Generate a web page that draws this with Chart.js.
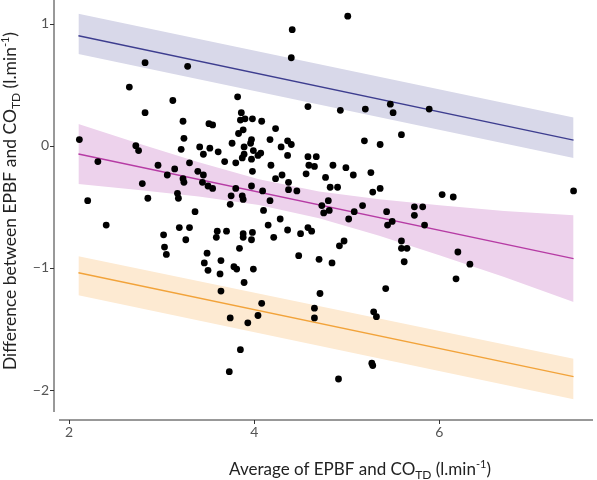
<!DOCTYPE html>
<html>
<head>
<meta charset="utf-8">
<script src="https://cdn.jsdelivr.net/npm/chart.js@4.4.1/dist/chart.umd.min.js"></script>
<style>
  html, body { margin: 0; padding: 0; background: #fff; }
</style>
</head>
<body>
<canvas id="baChart" width="597" height="480"></canvas>
<script>
// scatter: average of the two methods vs their difference
const avgVals = [
  4.41, 4.40, 2.82, 3.28, 5.01, 2.11, 2.31, 2.20, 2.40, 2.65,
  3.12, 3.82, 2.82, 3.23, 3.51, 3.55, 3.86, 3.85, 3.90, 3.83,
  3.88, 3.24, 3.76, 3.89, 3.41, 3.52, 3.45, 3.61, 3.89, 3.87,
  3.68, 3.80, 3.21, 2.72, 2.75, 2.96, 3.30, 3.14, 3.06, 3.39,
  3.45, 3.23, 3.24, 2.79, 3.44, 3.50, 3.55, 3.80, 3.75, 3.87,
  3.88, 3.17, 3.18, 2.85, 4.58, 4.93, 5.20, 3.98, 4.08, 4.23,
  3.97, 3.96, 4.17, 4.36, 4.40, 4.29, 3.99, 4.07, 4.04, 3.97,
  4.36, 4.58, 4.67, 5.19, 4.18, 4.59, 4.65, 4.85, 4.99, 5.07,
  3.98, 4.30, 4.23, 4.56, 4.77, 4.37, 4.37, 4.46, 3.97, 4.09,
  4.82, 4.90, 4.17, 4.80, 5.47, 5.50, 5.89, 5.59, 5.36, 5.26,
  5.36, 5.28, 6.03, 6.15, 5.43, 5.73, 5.82, 5.73, 5.49, 5.44,
  5.84, 5.59, 7.45, 3.74, 3.36, 3.19, 3.30, 3.02, 3.26, 3.60,
  3.70, 3.59, 3.88, 3.88, 3.03, 3.05, 3.84, 3.49, 3.64, 3.46,
  3.78, 3.81, 3.50, 3.63, 3.89, 3.64, 3.74, 4.10, 4.73, 4.81,
  4.75, 5.02, 5.08, 5.17, 4.28, 4.15, 4.36, 3.98, 3.97, 4.21,
  4.50, 4.58, 4.62, 4.97, 4.92, 4.48, 4.70, 4.84, 3.99, 4.71,
  4.08, 4.65, 4.65, 4.04, 3.93, 3.85, 3.73, 4.91, 5.59, 5.65,
  5.62, 6.20, 6.33, 6.18, 5.42, 5.29, 5.32, 5.27, 5.28
];
const diffVals = [
  0.95, 0.72, 0.68, 0.65, 1.06, 0.05, -0.13, -0.45, -0.65, 0.48,
  0.37, 0.40, 0.27, 0.20, 0.18, 0.17, 0.27, 0.21, 0.22, 0.10,
  0.13, 0.06, 0.02, -0.01, -0.01, -0.02, -0.07, -0.05, -0.07, -0.10,
  -0.13, -0.14, -0.03, 0.00, -0.04, -0.16, -0.14, -0.19, -0.24, -0.21,
  -0.24, -0.27, -0.30, -0.31, -0.30, -0.33, -0.35, -0.35, -0.41, -0.41,
  -0.44, -0.39, -0.43, -0.43, 0.32, 0.29, 0.30, 0.22, 0.20, 0.14,
  0.05, 0.02, 0.05, 0.04, 0.01, -0.01, -0.04, -0.06, -0.08, -0.11,
  -0.08, -0.09, -0.09, 0.04, -0.16, -0.16, -0.17, -0.16, -0.18, -0.24,
  -0.21, -0.24, -0.27, -0.23, -0.26, -0.30, -0.36, -0.37, -0.33, -0.37,
  -0.34, -0.34, -0.45, -0.45, 0.34, 0.27, 0.30, 0.09, 0.01, -0.22,
  -0.35, -0.38, -0.40, -0.42, -0.54, -0.50, -0.50, -0.57, -0.62, -0.65,
  -0.65, -0.78, -0.37, -0.48, -0.54, -0.67, -0.67, -0.73, -0.77, -0.70,
  -0.70, -0.75, -0.72, -0.75, -0.83, -0.89, -0.84, -0.88, -0.94, -0.96,
  -0.99, -1.01, -1.02, -1.05, -1.12, -1.19, -1.41, -0.53, -0.49, -0.53,
  -0.55, -0.60, -0.54, -0.49, -0.60, -0.65, -0.69, -0.71, -0.77, -0.75,
  -0.72, -0.67, -0.70, -0.78, -0.82, -0.90, -0.93, -0.96, -1.01, -1.21,
  -1.29, -1.33, -1.41, -1.39, -1.45, -1.67, -1.85, -1.91, -0.84, -0.84,
  -0.95, -0.87, -0.97, -1.09, -1.17, -1.36, -1.40, -1.78, -1.80
];

// limits of agreement (straight lines) with their bands
const loaX = [2.1, 7.45];
const upperLine = [0.90, 0.045];
const upperHi = [1.08, 0.23];
const upperLo = [0.75, -0.10];
const lowerLine = [-1.04, -1.89];
const lowerHi = [-0.906, -1.745];
const lowerLo = [-1.225, -2.076];

// bias line and its confidence band
const biasLine = [-0.068, -0.925];
const biasBandX = [2.1, 2.75, 3.4, 4.05, 4.7, 5.35, 6.0, 6.7, 7.45];
const biasHi = [0.177, 0.018, -0.136, -0.275, -0.374, -0.438, -0.487, -0.534, -0.569];
const biasLo = [-0.313, -0.362, -0.416, -0.485, -0.594, -0.738, -0.897, -1.074, -1.279];

const xTicks = [2, 4, 6];
const yTicks = [-2, -1, 0, 1];

const FONT = 'Lato, "Open Sans", sans-serif';

const pts = (xs, ys) => xs.map((x, i) => ({ x: x, y: ys[i] }));

function band(xs, ys, color, fillTo) {
    return {
        type: 'line', data: pts(xs, ys), borderWidth: 0, pointRadius: 0,
        backgroundColor: color, fill: fillTo, order: 3
    };
}
function line(xs, ys, color) {
    return {
        type: 'line', data: pts(xs, ys), borderColor: color, borderWidth: 1.3,
        pointRadius: 0, fill: false, order: 2
    };
}

// offset axis lines, tick marks and the two titles with sub/superscripts
const axisPlugin = {
    id: 'axisPlugin',
    afterDraw(chart) {
        const c = chart.ctx, a = chart.chartArea;
        const xs = chart.scales.x, ys = chart.scales.y;
        c.save();
        c.strokeStyle = '#333';
        c.lineWidth = 1;
        const yl = a.left - 5, xl = a.bottom + 8;
        c.beginPath();
        c.moveTo(yl, 0); c.lineTo(yl, a.bottom);
        yTicks.forEach(v => { const p = Math.round(ys.getPixelForValue(v)) + 0.5; c.moveTo(yl, p); c.lineTo(yl - 4, p); });
        c.moveTo(a.left, xl); c.lineTo(a.right, xl);
        xTicks.forEach(v => { const p = Math.round(xs.getPixelForValue(v)) + 0.5; c.moveTo(p, xl); c.lineTo(p, xl + 4); });
        c.stroke();

        c.fillStyle = '#222';
        const xTitle = [['Average of EPBF and CO', 17, 0], ['TD', 12, 4], [' (l.min', 17, 0], ['-1', 11, -7], [')', 17, 0]];
        const yTitle = [['Difference between EPBF and CO', 17.5, 0], ['TD', 12, 4], [' (l.min', 17.5, 0], ['-1', 11, -7], [')', 17.5, 0]];
        drawRich(c, xTitle, 360, 475);
        c.translate(16, 201);
        c.rotate(-Math.PI / 2);
        drawRich(c, yTitle, 0, 0);
        c.restore();
    }
};

function drawRich(c, parts, cx, by) {
    c.textBaseline = 'alphabetic';
    c.textAlign = 'left';
    let w = 0;
    parts.forEach(p => { c.font = p[1] + 'px ' + FONT; w += c.measureText(p[0]).width; });
    let x = cx - w / 2;
    parts.forEach(p => {
        c.font = p[1] + 'px ' + FONT;
        c.fillText(p[0], x, by + p[2]);
        x += c.measureText(p[0]).width;
    });
}

function noEdgePadding(s) {
    s.paddingTop = 0; s.paddingBottom = 0;
    s.paddingLeft = 0; s.paddingRight = 0;
}

const ctx = document.getElementById('baChart').getContext('2d');

const chart = new Chart(ctx, {
    type: 'scatter',
    data: {
        datasets: [
            band(loaX, upperHi, 'rgba(216,216,233,1)', '+1'),
            band(loaX, upperLo, 'transparent', false),
            band(biasBandX, biasHi, 'rgba(237,210,236,1)', '+1'),
            band(biasBandX, biasLo, 'transparent', false),
            band(loaX, lowerHi, 'rgba(253,234,210,1)', '+1'),
            band(loaX, lowerLo, 'transparent', false),
            line(loaX, upperLine, '#3d3d8f'),
            line(loaX, biasLine, '#b63ba4'),
            line(loaX, lowerLine, '#f2a33a'),
            {
                data: pts(avgVals, diffVals), backgroundColor: '#000', borderWidth: 0,
                pointRadius: 3.4, order: 1
            }
        ]
    },
    options: {
        responsive: false,
        animation: false,
        layout: { padding: 0 },
        plugins: { legend: { display: false }, tooltip: { enabled: false } },
        scales: {
            x: {
                type: 'linear', min: 1.89, max: 7.66,
                afterBuildTicks: s => { s.ticks = xTicks.map(v => ({ value: v })); },
                afterFit: s => { s.height = 68; noEdgePadding(s); },
                grid: { display: false, drawTicks: false },
                border: { display: false },
                ticks: { padding: 12, color: '#555', font: { family: FONT, size: 14 } }
            },
            y: {
                type: 'linear', min: -2.18, max: 1.16,
                afterBuildTicks: s => { s.ticks = yTicks.map(v => ({ value: v })); },
                afterFit: s => { s.width = 59; noEdgePadding(s); },
                grid: { display: false, drawTicks: false },
                border: { display: false },
                ticks: { padding: 10, color: '#555', font: { family: FONT, size: 14 },
                         callback: v => (v < 0 ? '\u2212' + Math.abs(v) : String(v)) }
            }
        }
    },
    plugins: [axisPlugin]
});
</script>
</body>
</html>
